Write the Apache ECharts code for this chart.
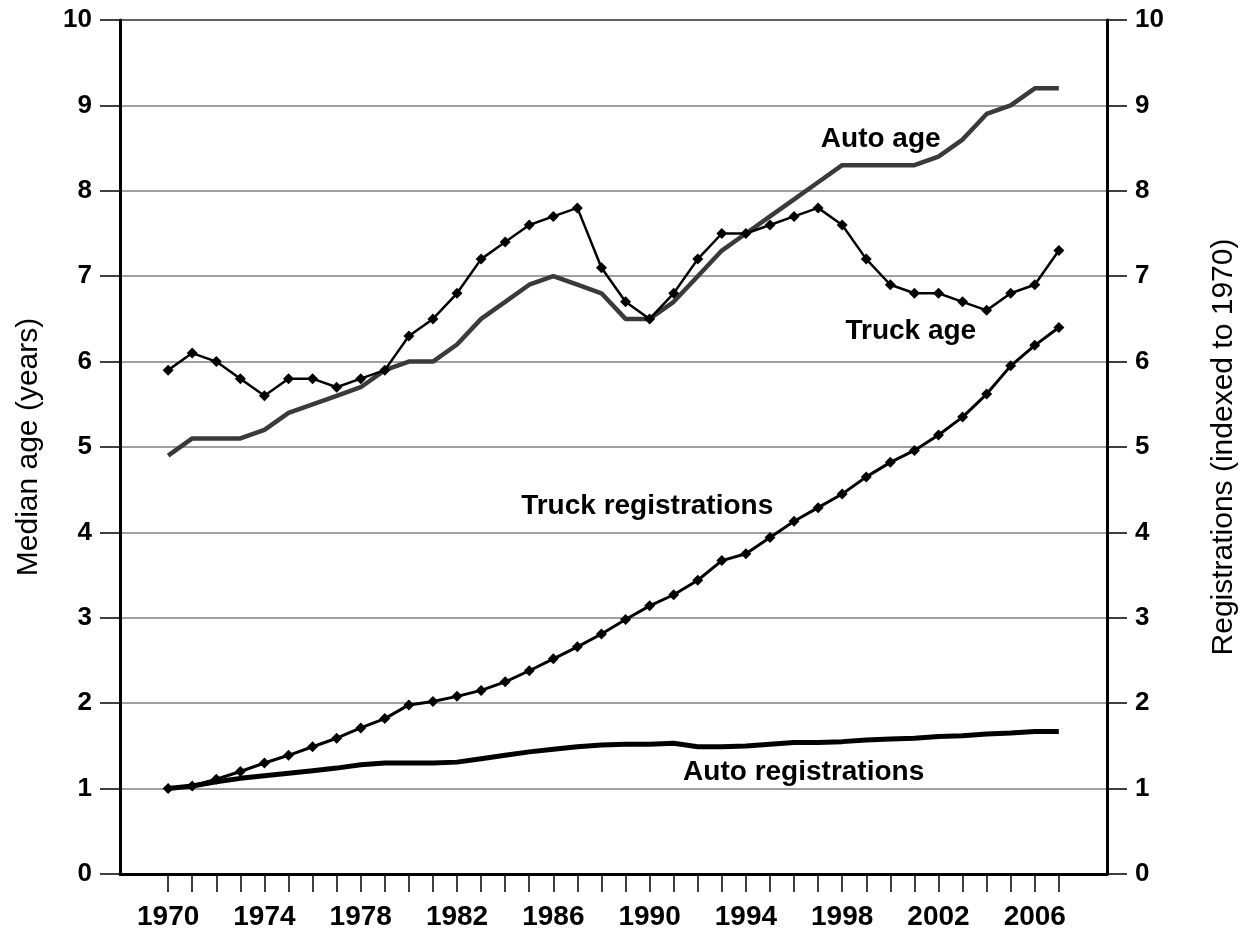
<!DOCTYPE html>
<html>
<head>
<meta charset="utf-8">
<script src="https://cdn.jsdelivr.net/npm/echarts@6/dist/echarts.min.js"></script>
<style>
    html, body { margin: 0; padding: 0; background: #fff; }
    #chart { width: 1247px; height: 938px; }
</style>
</head>
<body>
<div id="chart"></div>
<script>
// MARK: - Data

const years = [1970, 1971, 1972, 1973, 1974, 1975, 1976, 1977, 1978, 1979,
    1980, 1981, 1982, 1983, 1984, 1985, 1986, 1987, 1988, 1989,
    1990, 1991, 1992, 1993, 1994, 1995, 1996, 1997, 1998, 1999,
    2000, 2001, 2002, 2003, 2004, 2005, 2006, 2007];

const yearLabels = [1970, 1974, 1978, 1982, 1986, 1990, 1994, 1998, 2002, 2006];

// median age (years)
const truckAge = [5.9, 6.1, 6.0, 5.8, 5.6, 5.8, 5.8, 5.7, 5.8, 5.9,
    6.3, 6.5, 6.8, 7.2, 7.4, 7.6, 7.7, 7.8, 7.1, 6.7,
    6.5, 6.8, 7.2, 7.5, 7.5, 7.6, 7.7, 7.8, 7.6, 7.2,
    6.9, 6.8, 6.8, 6.7, 6.6, 6.8, 6.9, 7.3];

const autoAge = [4.9, 5.1, 5.1, 5.1, 5.2, 5.4, 5.5, 5.6, 5.7, 5.9,
    6.0, 6.0, 6.2, 6.5, 6.7, 6.9, 7.0, 6.9, 6.8, 6.5,
    6.5, 6.7, 7.0, 7.3, 7.5, 7.7, 7.9, 8.1, 8.3, 8.3,
    8.3, 8.3, 8.4, 8.6, 8.9, 9.0, 9.2, 9.2];

// registrations, indexed to 1970
const truckReg = [1.00, 1.03, 1.11, 1.20, 1.30, 1.39, 1.49, 1.59, 1.71, 1.82,
    1.98, 2.02, 2.08, 2.15, 2.25, 2.38, 2.52, 2.66, 2.81, 2.98,
    3.14, 3.27, 3.44, 3.67, 3.75, 3.94, 4.13, 4.29, 4.45, 4.65,
    4.82, 4.96, 5.14, 5.35, 5.62, 5.95, 6.19, 6.40];

const autoReg = [1.00, 1.03, 1.08, 1.12, 1.15, 1.18, 1.21, 1.24, 1.28, 1.30,
    1.30, 1.30, 1.31, 1.35, 1.39, 1.43, 1.46, 1.49, 1.51, 1.52,
    1.52, 1.53, 1.49, 1.49, 1.50, 1.52, 1.54, 1.54, 1.55, 1.57,
    1.58, 1.59, 1.61, 1.62, 1.64, 1.65, 1.67, 1.67];


// MARK: - Chart

const font = "'Liberation Sans', Arial, sans-serif";

function pairs(values) {
    return years.map((y, i) => [y, values[i]]);
}

// text label placed in data space; the symbol itself is invisible
function seriesLabel(text, coord) {
    return {
        symbol: 'circle',
        symbolSize: 1,
        silent: true,
        itemStyle: {color: 'rgba(0,0,0,0)'},
        label: {
            show: true,
            position: 'inside',
            formatter: text,
            color: '#000',
            fontFamily: font,
            fontWeight: 'bold',
            fontSize: 28
        },
        data: [{coord: coord}]
    };
}

function valueAxis(position, name, nameGap, showSplit) {
    return {
        type: 'value',
        position: position,
        min: 0,
        max: 10,
        interval: 1,
        name: name,
        nameLocation: 'middle',
        nameGap: nameGap,
        nameRotate: 90,
        nameTextStyle: {
            color: '#000',
            fontFamily: font,
            fontSize: 30
        },
        axisLine: {show: true, lineStyle: {color: '#000', width: 3}},
        axisTick: {show: true, inside: false, length: 20, lineStyle: {color: '#000', width: 1.5}},
        axisLabel: {
            margin: 28,
            color: '#000',
            fontFamily: font,
            fontWeight: 'bold',
            fontSize: 26
        },
        splitLine: {show: showSplit, lineStyle: {color: '#808080', width: 1.5}}
    };
}

let chart = echarts.init(document.getElementById('chart'), null, {renderer: 'canvas'});

let option = {
    backgroundColor: '#fff',
    animation: false,
    grid: {
        left: 120,
        right: 122,
        top: 20,
        bottom: 64,
        show: true,
        borderColor: '#000',
        borderWidth: 2,
        backgroundColor: 'transparent'
    },
    xAxis: {
        type: 'value',
        min: 1968,
        max: 2009,
        interval: 1,
        axisLine: {show: true, onZero: false, lineStyle: {color: '#000', width: 3}},
        axisTick: {
            show: true,
            inside: false,
            length: 18,
            customValues: years,
            lineStyle: {color: '#000', width: 1.5}
        },
        axisLabel: {
            margin: 29,
            customValues: yearLabels,
            formatter: v => String(v),
            color: '#000',
            fontFamily: font,
            fontWeight: 'bold',
            fontSize: 28
        },
        splitLine: {show: false}
    },
    yAxis: [
        valueAxis('left', 'Median age (years)', 76, true),
        valueAxis('right', 'Registrations (indexed to 1970)', 102, false)
    ],
    series: [
        {
            name: 'Auto age',
            type: 'line',
            yAxisIndex: 0,
            data: pairs(autoAge),
            symbol: 'none',
            lineStyle: {color: '#3a3a3a', width: 4.5},
            z: 2,
            markPoint: seriesLabel('Auto age', [1999.6, 8.6])
        },
        {
            name: 'Truck age',
            type: 'line',
            yAxisIndex: 0,
            data: pairs(truckAge),
            symbol: 'diamond',
            symbolSize: 11,
            itemStyle: {color: '#000'},
            lineStyle: {color: '#000', width: 2.5},
            z: 3,
            markPoint: seriesLabel('Truck age', [2000.85, 6.36])
        },
        {
            name: 'Truck registrations',
            type: 'line',
            yAxisIndex: 1,
            data: pairs(truckReg),
            symbol: 'diamond',
            symbolSize: 11,
            itemStyle: {color: '#000'},
            lineStyle: {color: '#000', width: 3},
            z: 3,
            markPoint: seriesLabel('Truck registrations', [1989.9, 4.3])
        },
        {
            name: 'Auto registrations',
            type: 'line',
            yAxisIndex: 1,
            data: pairs(autoReg),
            symbol: 'none',
            lineStyle: {color: '#000', width: 5},
            z: 2,
            markPoint: seriesLabel('Auto registrations', [1996.4, 1.19])
        }
    ]
};

option && chart.setOption(option);
</script>
</body>
</html>
